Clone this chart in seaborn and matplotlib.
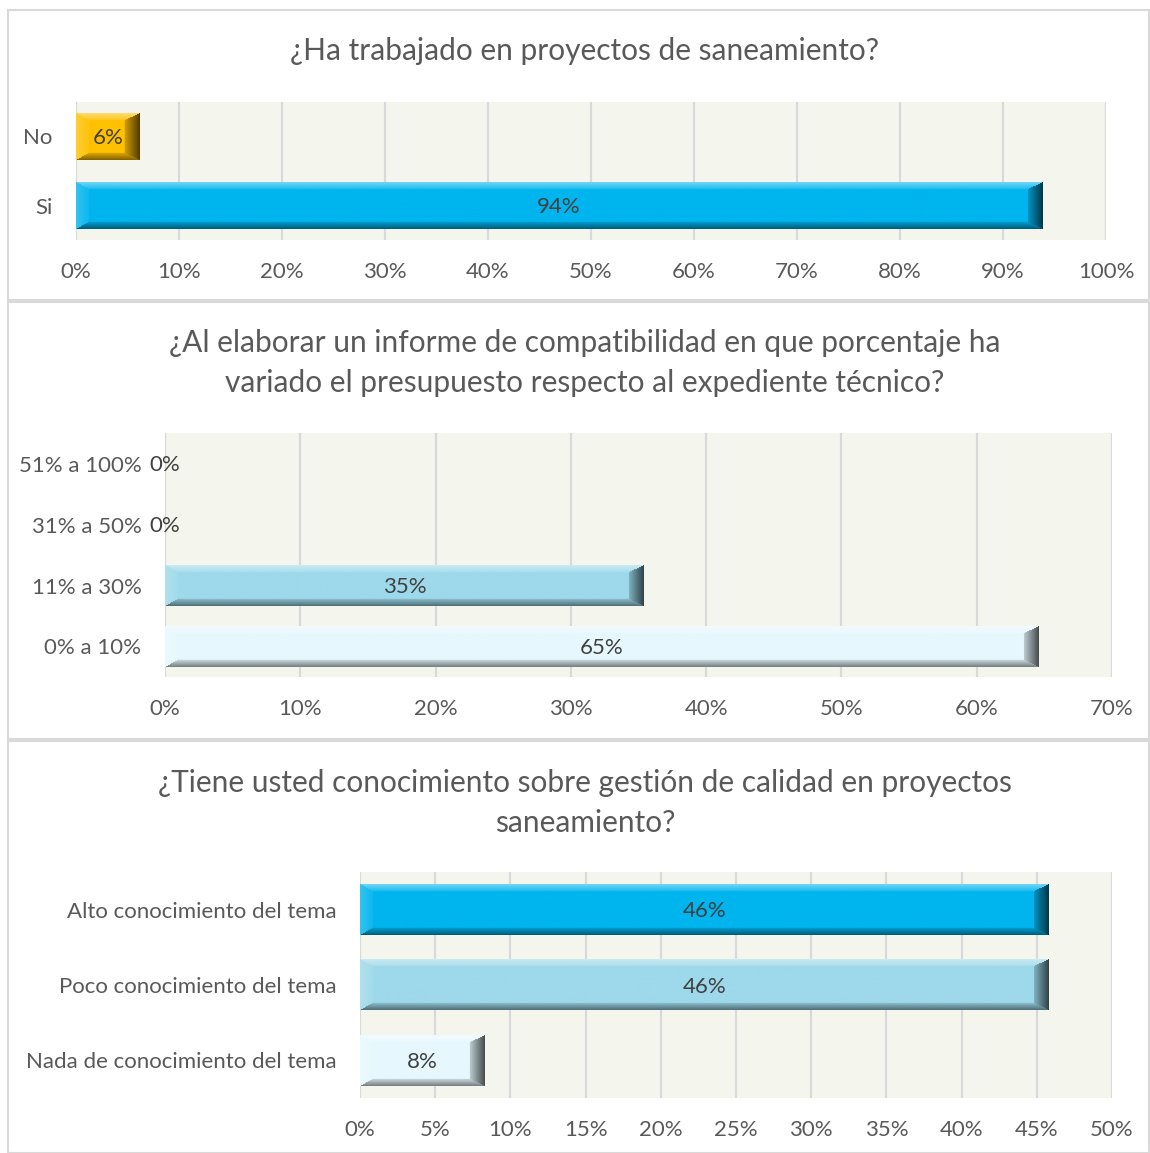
import numpy as np
import pandas as pd
import matplotlib
matplotlib.use("Agg")
import matplotlib.pyplot as plt
import matplotlib.colors as mcolors
from matplotlib.patches import Rectangle
import seaborn as sns

# Datos de las tres preguntas
q1_title = "¿Ha trabajado en proyectos de saneamiento?"
q1_cats = ["No", "Si"]
q1_vals = [6.2, 93.8]
q1_colors = ["#FFC000", "#00B4EE"]

q2_title = ("¿Al elaborar un informe de compatibilidad en que porcentaje ha\n"
            "variado el presupuesto respecto al expediente técnico?")
q2_cats = ["51% a 100%", "31% a 50%", "11% a 30%", "0% a 10%"]
q2_vals = [0, 0, 35.4, 64.6]
q2_colors = ["#9DD9EA", "#9DD9EA", "#9DD9EA", "#E6F8FD"]

q3_title = ("¿Tiene usted conocimiento sobre gestión de calidad en proyectos\n"
            "saneamiento?")
q3_cats = ["Alto conocimiento del tema", "Poco conocimiento del tema",
           "Nada de conocimiento del tema"]
q3_vals = [45.8, 45.8, 8.3]
q3_colors = ["#00B4EE", "#9DD9EA", "#E6F8FD"]

W, H = 1150, 1153
sns.set_theme(style="white")
plt.rcParams["font.family"] = ["Lato", "DejaVu Sans"]

GRAY = "#595959"
DARK = "#404040"
PLOT_BG = "#F4F6EE"
FS = 16

fig = plt.figure(figsize=(W / 100, H / 100), dpi=100)


def px_axes(x0, y0, x1, y1):
    return fig.add_axes([x0 / W, 1 - y1 / H, (x1 - x0) / W, (y1 - y0) / H])


def bevel(ax, patch, color):
    w = patch.get_width()
    if w <= 0:
        return
    x0, y0, h = patch.get_x(), patch.get_y(), patch.get_height()
    p0 = ax.transData.transform((x0, y0))
    p1 = ax.transData.transform((x0 + w, y0 + h))
    wp = max(int(abs(p1[0] - p0[0])), 2)
    hp = max(int(abs(p1[1] - p0[1])), 2)
    yy, xx = np.mgrid[0:hp, 0:wp] + 0.5
    dt, db = yy / 7.0, (hp - yy) / 7.0
    dl, dr = xx / 13.0, (wp - xx) / 15.0
    stack = np.stack([dt, db, dl, dr])
    near = stack.argmin(axis=0)
    mind = stack.min(axis=0)
    base = np.array(mcolors.to_rgb(color))
    img = np.tile(base, (hp, wp, 1))
    amt = np.clip(1 - mind, 0, 1)
    white, black = np.ones(3), np.zeros(3)
    # top highlight, bottom shade, left light, right dark
    for k, (tgt, f) in enumerate([(white, 0.45), (black, 0.5),
                                  (white, 0.2), (black, 0.7)]):
        m = (near == k) & (mind < 1)
        a = (0.25 + 0.75 * amt[m])[:, None] * f
        img[m] = img[m] * (1 - a) + tgt * a
    ax.imshow(img, extent=(x0, x0 + w, y0 + h, y0), aspect="auto",
              interpolation="bilinear", zorder=3)


def panel(box, title, title_y, cats, vals, colors, xmax, step):
    ax = px_axes(*box)
    df = pd.DataFrame({"cat": cats, "val": vals})
    sns.barplot(data=df, y="cat", x="val", hue="cat", palette=colors,
                legend=False, ax=ax, width=0.67, saturation=1,
                edgecolor="none", zorder=2)
    ax.set_facecolor(PLOT_BG)
    ticks = np.arange(0, xmax + step / 2, step)
    ax.set_xticks(ticks)
    ax.set_xticklabels([f"{t:.0f}%" for t in ticks])
    ax.grid(axis="x", color="#D9D9D9", lw=1.6, zorder=0)
    ax.set_axisbelow(True)
    for s in ax.spines.values():
        s.set_visible(False)
    ax.tick_params(axis="x", length=0, pad=16, labelsize=FS, labelcolor=GRAY)
    ax.tick_params(axis="y", length=0, pad=17, labelsize=FS, labelcolor=GRAY)
    ax.set_xlabel("")
    ax.set_ylabel("")
    ax.set_xlim(0, xmax)
    ax.set_ylim(len(cats) - 0.5, -0.5)
    for p, c in zip(ax.patches, colors):
        bevel(ax, p, c)
    for i, v in enumerate(vals):
        ax.text(v / 2, i + 0.02, f"{v:.0f}%", ha="center", va="center",
                fontsize=FS, color=DARK, zorder=5)
    ax.set_xlim(0, xmax)
    ax.set_ylim(len(cats) - 0.5, -0.5)
    fig.text(585 / W, 1 - title_y / H, title, ha="center", va="center",
             fontsize=21.5, color=GRAY, linespacing=1.55)
    return ax


# marcos de cada gráfico
for y0, y1 in [(10, 300), (302, 739), (741, 1153)]:
    fig.add_artist(Rectangle((8 / W, 1 - y1 / H), (W - 9) / W, (y1 - y0) / H,
                             transform=fig.transFigure, fill=False,
                             edgecolor="#D9D9D9", lw=1.5))

panel((76, 102, 1106, 240), q1_title, 51, q1_cats, q1_vals, q1_colors, 100, 10)
panel((165, 433, 1112, 677), q2_title, 363, q2_cats, q2_vals, q2_colors, 70, 10)
panel((360, 872, 1112, 1098), q3_title, 803, q3_cats, q3_vals, q3_colors, 50, 5)

fig.savefig("out.png", dpi=100, facecolor="white")
